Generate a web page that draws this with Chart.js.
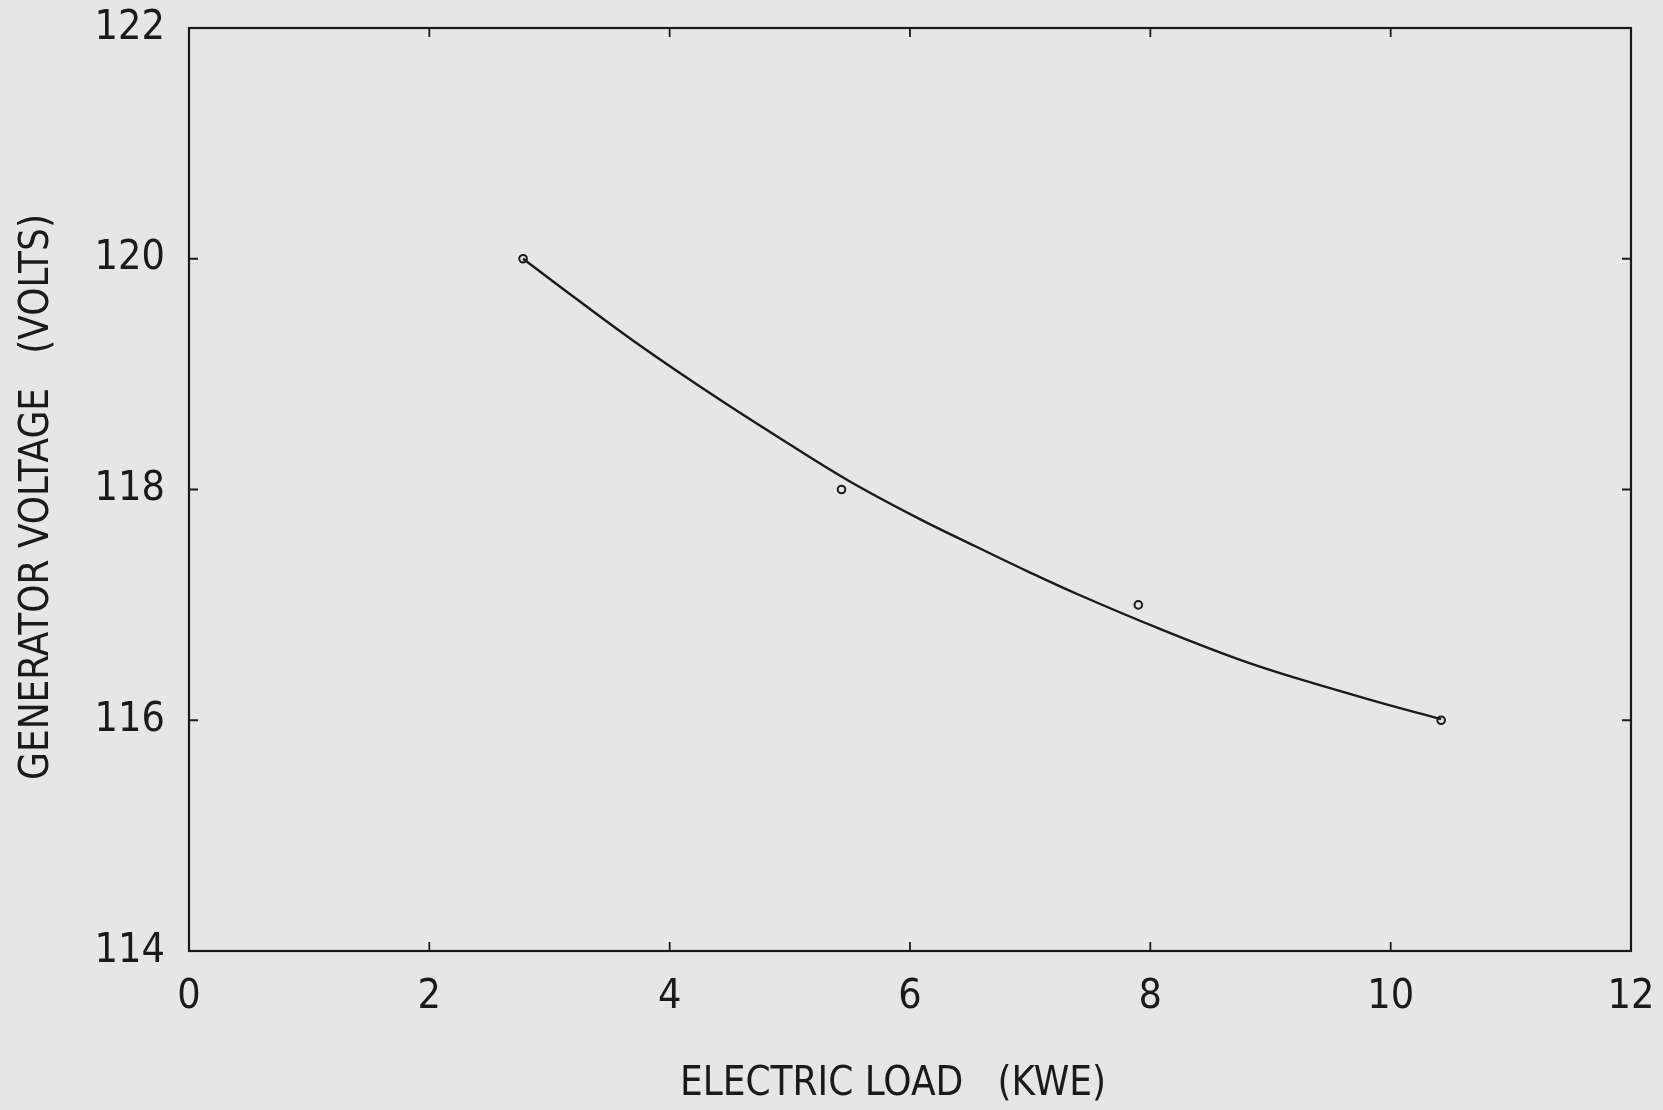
<!DOCTYPE html>
<html>
<head>
<meta charset="utf-8">
<script src="https://cdn.jsdelivr.net/npm/chart.js@4.4.1/dist/chart.umd.min.js"></script>
<style>
  html, body { margin: 0; padding: 0; background: #e6e6e6; }
  #wrap { width: 1663px; height: 1110px; position: relative; }
  canvas { display: block; }
</style>
</head>
<body>
<div id="wrap"><canvas id="c" width="1663" height="1110"></canvas></div>
<script>
// ---- data ----
const xTitle = "ELECTRIC LOAD   (KWE)";
const yTitle = "GENERATOR VOLTAGE   (VOLTS)";
const xTicks = [0, 2, 4, 6, 8, 10, 12];
const yTicks = [114, 116, 118, 120, 122];
// measured points (open circles)
const pointLoad    = [2.78, 5.43, 7.90, 10.42];
const pointVoltage = [120.0, 118.0, 117.0, 116.0];
// fitted curve
const curveLoad    = [2.78, 3.2, 3.75, 4.4, 5.0, 5.5, 6.07, 6.54, 7.0, 7.4, 8.06, 8.73, 9.23, 9.89, 10.42];
const curveVoltage = [120.00, 119.67, 119.25, 118.79, 118.39, 118.07, 117.75, 117.51, 117.28, 117.09, 116.80, 116.53, 116.36, 116.16, 116.01];

const FONT = "'Liberation Sans Narrow', 'DejaVu Sans Condensed', 'Liberation Sans', sans-serif";
const INK = '#1a1a1a';

const curveData = curveLoad.map((x, i) => ({ x: x, y: curveVoltage[i] }));
const pointData = pointLoad.map((x, i) => ({ x: x, y: pointVoltage[i] }));

function zeroPad(scale) {
  scale.paddingTop = 0; scale.paddingBottom = 0;
  scale.paddingLeft = 0; scale.paddingRight = 0;
}

const framePlugin = {
  id: 'frameTicks',
  afterDatasetsDraw(chart) {
    const { ctx, chartArea: a, scales } = chart;
    const xs = scales.x, ys = scales.y;
    const L = 9;
    ctx.save();
    ctx.strokeStyle = INK;
    ctx.lineWidth = 2.2;
    ctx.strokeRect(a.left, a.top, a.right - a.left, a.bottom - a.top);
    ctx.lineWidth = 1.8;
    ctx.beginPath();
    xTicks.forEach(v => {
      const px = xs.getPixelForValue(v);
      ctx.moveTo(px, a.bottom); ctx.lineTo(px, a.bottom - L);
      ctx.moveTo(px, a.top); ctx.lineTo(px, a.top + L);
    });
    yTicks.forEach(v => {
      const py = ys.getPixelForValue(v);
      ctx.moveTo(a.left, py); ctx.lineTo(a.left + L, py);
      ctx.moveTo(a.right, py); ctx.lineTo(a.right - L, py);
    });
    ctx.stroke();
    // axis titles
    ctx.fillStyle = INK;
    ctx.font = "40px " + FONT;
    ctx.textAlign = 'center';
    ctx.textBaseline = 'alphabetic';
    ctx.fillText(xTitle, 893, 1095);
    ctx.translate(48, 497);
    ctx.rotate(-Math.PI / 2);
    ctx.fillText(yTitle, 0, 0);
    ctx.restore();
  }
};

new Chart(document.getElementById('c'), {
  type: 'scatter',
  data: {
    datasets: [
      {
        label: 'fit',
        data: curveData,
        showLine: true,
        tension: 0.4,
        borderColor: INK,
        borderWidth: 2.4,
        pointRadius: 0,
        pointHoverRadius: 0,
        fill: false
      },
      {
        label: 'measured',
        data: pointData,
        showLine: false,
        pointStyle: 'circle',
        pointRadius: 3.8,
        pointBorderWidth: 2,
        pointBorderColor: INK,
        pointBackgroundColor: 'rgba(0,0,0,0)'
      }
    ]
  },
  options: {
    responsive: false,
    animation: false,
    layout: { padding: { top: 28, right: 32, left: 0, bottom: 0 } },
    plugins: {
      legend: { display: false },
      tooltip: { enabled: false },
      title: { display: false }
    },
    scales: {
      x: {
        type: 'linear',
        min: 0, max: 12,
        afterFit(scale) { scale.height = 159; zeroPad(scale); },
        afterBuildTicks(scale) { scale.ticks = xTicks.map(v => ({ value: v })); },
        border: { display: false },
        grid: { display: false, drawTicks: false },
        ticks: {
          color: INK,
          padding: 22,
          font: { family: FONT, size: 41 },
          maxRotation: 0,
          autoSkip: false
        }
      },
      y: {
        type: 'linear',
        min: 114, max: 122,
        afterFit(scale) { scale.width = 189; zeroPad(scale); },
        afterBuildTicks(scale) { scale.ticks = yTicks.map(v => ({ value: v })); },
        border: { display: false },
        grid: { display: false, drawTicks: false },
        ticks: {
          color: INK,
          padding: 24,
          font: { family: FONT, size: 41 },
          autoSkip: false
        }
      }
    }
  },
  plugins: [framePlugin]
});
</script>
</body>
</html>
